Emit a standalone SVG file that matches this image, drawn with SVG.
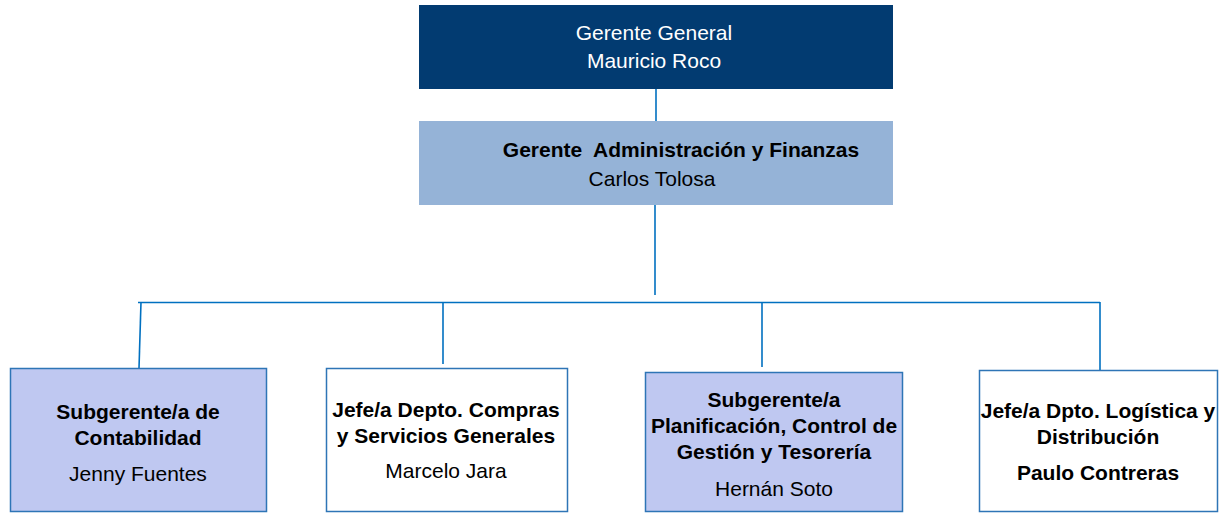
<svg xmlns="http://www.w3.org/2000/svg" width="1220" height="513" viewBox="0 0 1220 513">
<style>
text{font-family:"Liberation Sans",Arial,sans-serif;font-size:21px;text-anchor:middle;fill:#000}
.b{font-weight:bold}
.w{fill:#fff}
.box{stroke:#2E75B6;stroke-width:1.5}
.lav{fill:#BFC8F1}
.wh{fill:#fff}
.con{stroke:#0070C0;stroke-width:1.6;fill:none}
</style>
<rect width="1220" height="513" fill="#fff"/>
<g id="connectors">
<line class="con" x1="656" y1="89" x2="656" y2="121"/>
<line class="con" x1="655" y1="205" x2="655" y2="295"/>
<line class="con" x1="138" y1="302.5" x2="1100" y2="302.5"/>
<line class="con" x1="141" y1="302" x2="139" y2="368"/>
<line class="con" x1="443" y1="303" x2="443" y2="364"/>
<line class="con" x1="762" y1="303" x2="762" y2="367"/>
<line class="con" x1="1100" y1="302" x2="1100" y2="370"/>
</g>
<g id="n_gerente_general">
<rect x="419" y="5" width="474" height="84" fill="#023B71"/>
<text class="w" x="654" y="40">Gerente General</text>
<text class="w" x="654" y="68">Mauricio Roco</text>
</g>
<g id="n_gerente_admin">
<rect x="419" y="121" width="474" height="84" fill="#95B3D7"/>
<text class="b" x="681" y="157" xml:space="preserve">Gerente  Administración y Finanzas</text>
<text x="652" y="186">Carlos Tolosa</text>
</g>
<g id="n_contabilidad">
<rect class="box lav" x="10.5" y="368.5" width="256" height="143"/>
<text class="b" x="138" y="419">Subgerente/a de</text>
<text class="b" x="138" y="445">Contabilidad</text>
<text x="138" y="481">Jenny Fuentes</text>
</g>
<g id="n_compras">
<rect class="box wh" x="326.5" y="368.5" width="241" height="143"/>
<text class="b" x="446" y="417">Jefe/a Depto. Compras</text>
<text class="b" x="446" y="443">y Servicios Generales</text>
<text x="446" y="478">Marcelo Jara</text>
</g>
<g id="n_planificacion">
<rect class="box lav" x="645.5" y="372.5" width="257" height="139"/>
<text class="b" x="774" y="407">Subgerente/a</text>
<text class="b" x="774" y="433">Planificación, Control de</text>
<text class="b" x="774" y="459">Gestión y Tesorería</text>
<text x="774" y="496">Hernán Soto</text>
</g>
<g id="n_logistica">
<rect class="box wh" x="979.5" y="370.5" width="238" height="141"/>
<text class="b" x="1098" y="418">Jefe/a Dpto. Logística y</text>
<text class="b" x="1098" y="444">Distribución</text>
<text class="b" x="1098" y="480">Paulo Contreras</text>
</g>
</svg>
